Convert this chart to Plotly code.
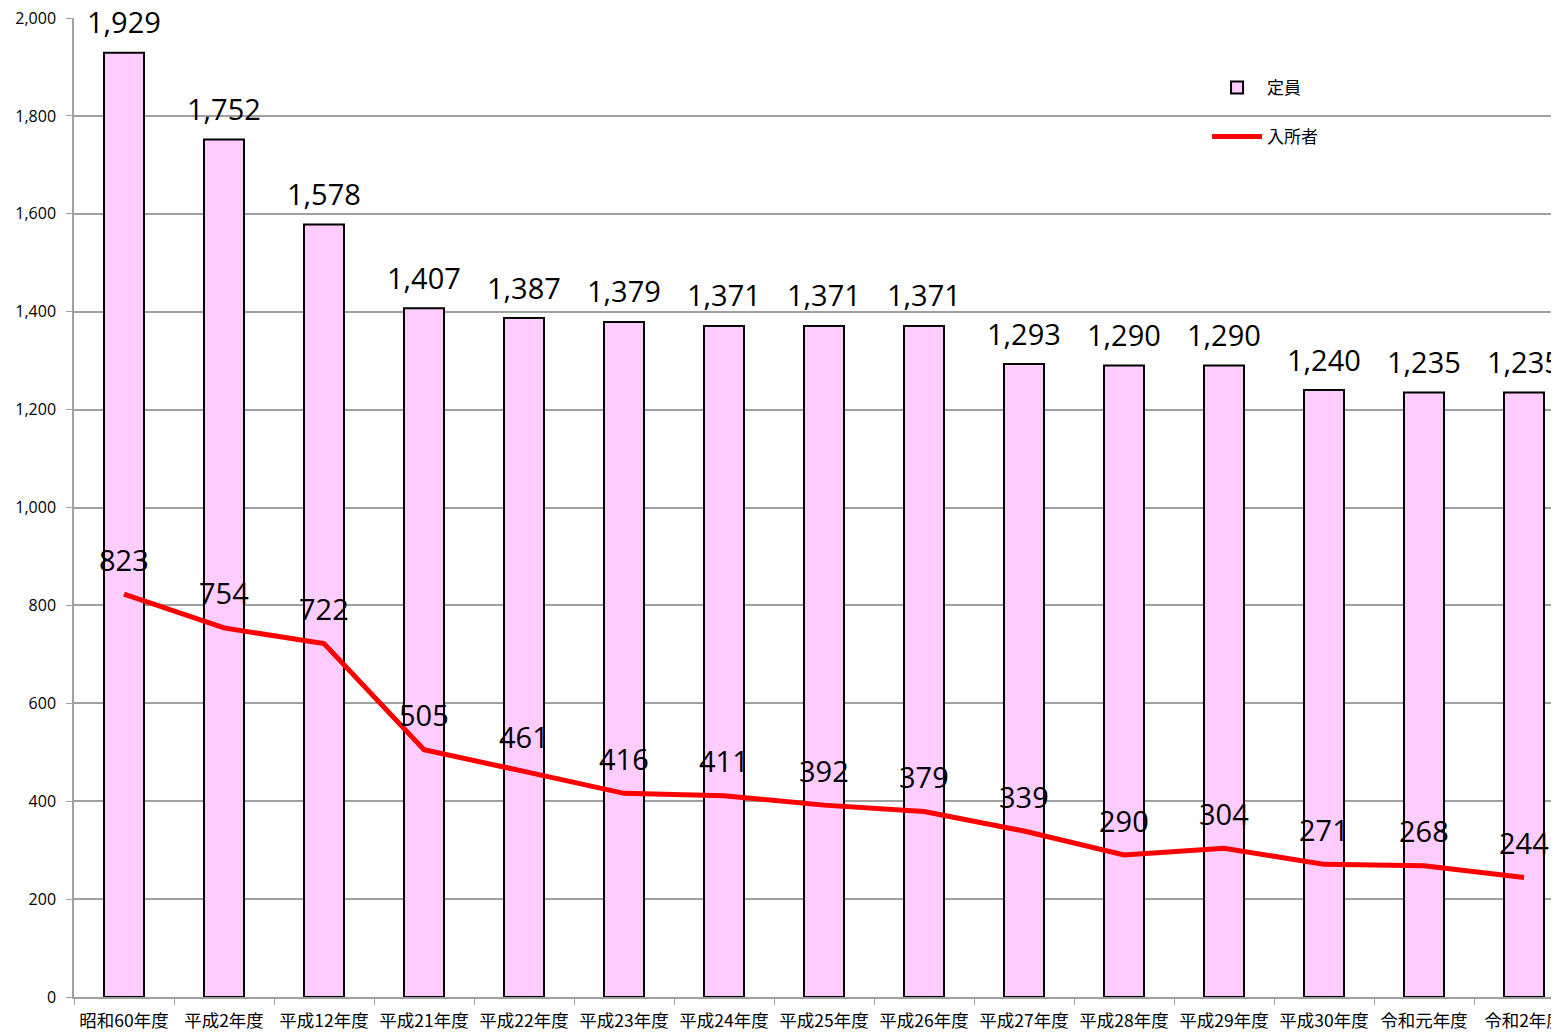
import plotly.graph_objects as go

categories = ["昭和60年度", "平成2年度", "平成12年度", "平成21年度", "平成22年度", "平成23年度",
              "平成24年度", "平成25年度", "平成26年度", "平成27年度", "平成28年度", "平成29年度",
              "平成30年度", "令和元年度", "令和2年度"]
capacity = [1929, 1752, 1578, 1407, 1387, 1379, 1371, 1371, 1371, 1293, 1290, 1290, 1240, 1235, 1235]
admitted = [823, 754, 722, 505, 461, 416, 411, 392, 379, 339, 290, 304, 271, 268, 244]
y_ticks = [0, 200, 400, 600, 800, 1000, 1200, 1400, 1600, 1800, 2000]

NUM_FONT = "Open Sans, Liberation Sans, sans-serif"
JP_FONT = "Noto Sans CJK JP, sans-serif"

fig = go.Figure()
fig.add_trace(go.Bar(
    x=categories, y=capacity, name="定員", width=0.4,
    marker=dict(color="#FFCCFF", line=dict(color="black", width=2)),
    legendgroup="a",
))
fig.add_trace(go.Scatter(
    x=categories, y=admitted, name="入所者", mode="lines",
    line=dict(color="#FF0000", width=5),
    legendgroup="b",
))

annotations = []
for c, v in zip(categories, capacity):
    annotations.append(dict(x=c, y=v, text=f"{v:,}", showarrow=False, yanchor="middle",
                            yshift=31, font=dict(family=NUM_FONT, size=29, color="black")))
for c, v in zip(categories, admitted):
    annotations.append(dict(x=c, y=v, text=f"{v:,}", showarrow=False, yanchor="middle",
                            yshift=35, font=dict(family=NUM_FONT, size=29, color="black")))

fig.update_layout(
    width=1551, height=1024,
    margin=dict(l=66, r=0, t=10, b=35, autoexpand=False),
    paper_bgcolor="white", plot_bgcolor="white",
    showlegend=True,
    legend=dict(x=0.763, y=0.947, xanchor="left", yanchor="top",
                font=dict(family=JP_FONT, size=17, color="black"),
                traceorder="grouped", tracegroupgap=24, itemwidth=50,
                bgcolor="rgba(0,0,0,0)"),
    annotations=annotations,
)
fig.update_xaxes(
    range=[-0.5, 14.35], showgrid=False, automargin=False,
    showline=True, linecolor="#A0A0A0", linewidth=1.5,
    ticks="outside", tickson="boundaries", ticklen=6, tickcolor="#A0A0A0",
    ticklabelstandoff=7, tickangle=0, ticklabeloverflow="allow",
    tickfont=dict(family=JP_FONT, size=17.5, color="black"),
)
fig.update_yaxes(
    range=[0, 2000], tickvals=y_ticks, ticktext=[f"{t:,}" for t in y_ticks],
    showgrid=True, gridcolor="#A0A0A0", gridwidth=1.5, automargin=False,
    showline=True, linecolor="#A0A0A0", linewidth=1.5,
    ticks="outside", ticklen=6, tickcolor="#A0A0A0",
    ticklabelstandoff=7, ticklabeloverflow="allow",
    tickfont=dict(family=NUM_FONT, size=16, color="black"),
    zeroline=False,
)

fig.write_html("out.html")
